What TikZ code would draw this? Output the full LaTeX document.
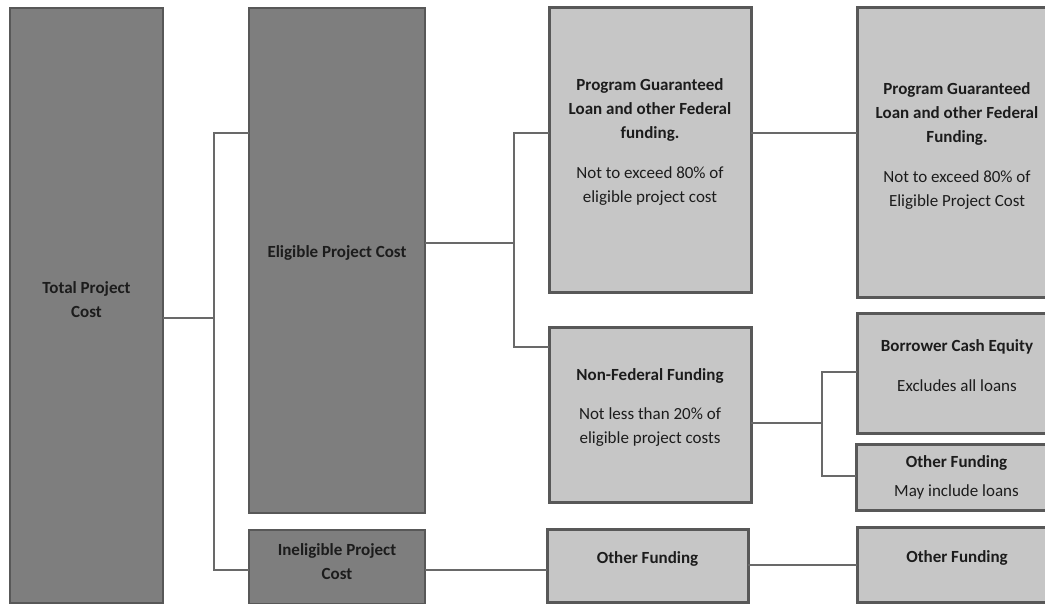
\documentclass[tikz,border=0pt]{standalone}
\usepackage{fontspec}
\setmainfont{Carlito}
\usetikzlibrary{positioning}
\definecolor{darkfill}{RGB}{126,126,126}
\definecolor{lightfill}{RGB}{198,198,198}
\definecolor{edge}{RGB}{88,88,88}
\definecolor{wire}{RGB}{105,105,105}
\definecolor{ink}{RGB}{28,28,28}
\tikzstyle{cost} = [draw=edge, fill=darkfill, line width=2.5pt, inner sep=0pt, outer sep=0pt, align=center, text=ink, font=\fontsize{17}{24}\selectfont]
\tikzstyle{fund} = [draw=edge, fill=lightfill, line width=3pt, inner sep=0pt, outer sep=0pt, align=center, text=ink, font=\fontsize{17}{24}\selectfont]
\tikzstyle{link} = [draw=wire, line width=2pt]
\tikzset{lift/.style={execute at end node={\rule[-#1]{0pt}{#1}}},
  sink/.style={execute at begin node={\rule{0pt}{#1}}}}

\begin{document}
\begin{tikzpicture}[x=1pt, y=-1pt, node distance=16pt]
\useasboundingbox (0,0) rectangle (1045,604);
\clip (0,0) rectangle (1045,604);

% project cost
\node (total)[cost, minimum width=153pt, minimum height=595pt, lift=12pt, anchor=north west] at (10,8) {\textbf{Total Project}\\\textbf{Cost}};
\node (elig)[cost, minimum width=176pt, minimum height=505pt, lift=17pt, right=86pt of total.north east, anchor=north west] {\textbf{Eligible Project Cost}};
\node (inelig)[cost, minimum width=176pt, minimum height=74pt, lift=10pt, below=17pt of elig.south] {\textbf{Ineligible Project}\\\textbf{Cost}};

% funding
\node (pgl)[fund, minimum width=202pt, minimum height=285pt, lift=20pt, right=124pt of elig.north east, anchor=north west] {\textbf{Program Guaranteed}\\\textbf{Loan and other Federal}\\\textbf{funding.}\\[16pt]Not to exceed 80\% of\\eligible project cost};
\node (nonfed)[fund, minimum width=202pt, minimum height=174pt, lift=18pt, below=35pt of pgl.south] {\textbf{Non-Federal Funding}\\[15pt]Not less than 20\% of\\eligible project costs};
\node (other)[fund, minimum width=201pt, minimum height=73pt, lift=16pt, right=122pt of inelig.north east, anchor=north west, yshift=1pt] {\textbf{Other Funding}};

% sources
\node (pglr)[fund, minimum width=200pt, minimum height=290pt, lift=17pt, right=106pt of pgl.north east, anchor=north west] {\textbf{Program Guaranteed}\\\textbf{Loan and other Federal}\\\textbf{Funding.}\\[16pt]Not to exceed 80\% of\\Eligible Project Cost};
\node (equity)[fund, minimum width=200pt, minimum height=119pt, lift=16pt, below=16pt of pglr.south west, anchor=north west] {\textbf{Borrower Cash Equity}\\[16pt]Excludes all loans};
\node (loans)[fund, minimum width=201pt, minimum height=66pt, sink=24pt, below=11pt of equity.south west, anchor=north west, xshift=-1pt] {\textbf{Other Funding}\\[5pt]May include loans};
\node (otherr)[fund, minimum width=200pt, minimum height=75pt, lift=15pt, below=17pt of loans.south west, anchor=north west, xshift=1pt] {\textbf{Other Funding}};

% connectors
\draw[link] (total.east |- 0,318) -- (214,318);
\draw[link] (elig.west |- 0,133) -| (214,570) -- (inelig.west |- 0,570);
\draw[link] (elig.east |- 0,243) -- (514,243);
\draw[link] (pgl.west |- 0,133) -| (514,347) -- (nonfed.west |- 0,347);
\draw[link] (pgl.east |- 0,133) -- (pglr.west |- 0,133);
\draw[link] (nonfed.east |- 0,423) -- (822,423);
\draw[link] (equity.west |- 0,372) -| (822,476) -- (loans.west |- 0,476);
\draw[link] (inelig.east |- 0,570) -- (other.west |- 0,570);
\draw[link] (other.east |- 0,565) -- (otherr.west |- 0,565);
\end{tikzpicture}
\end{document}
